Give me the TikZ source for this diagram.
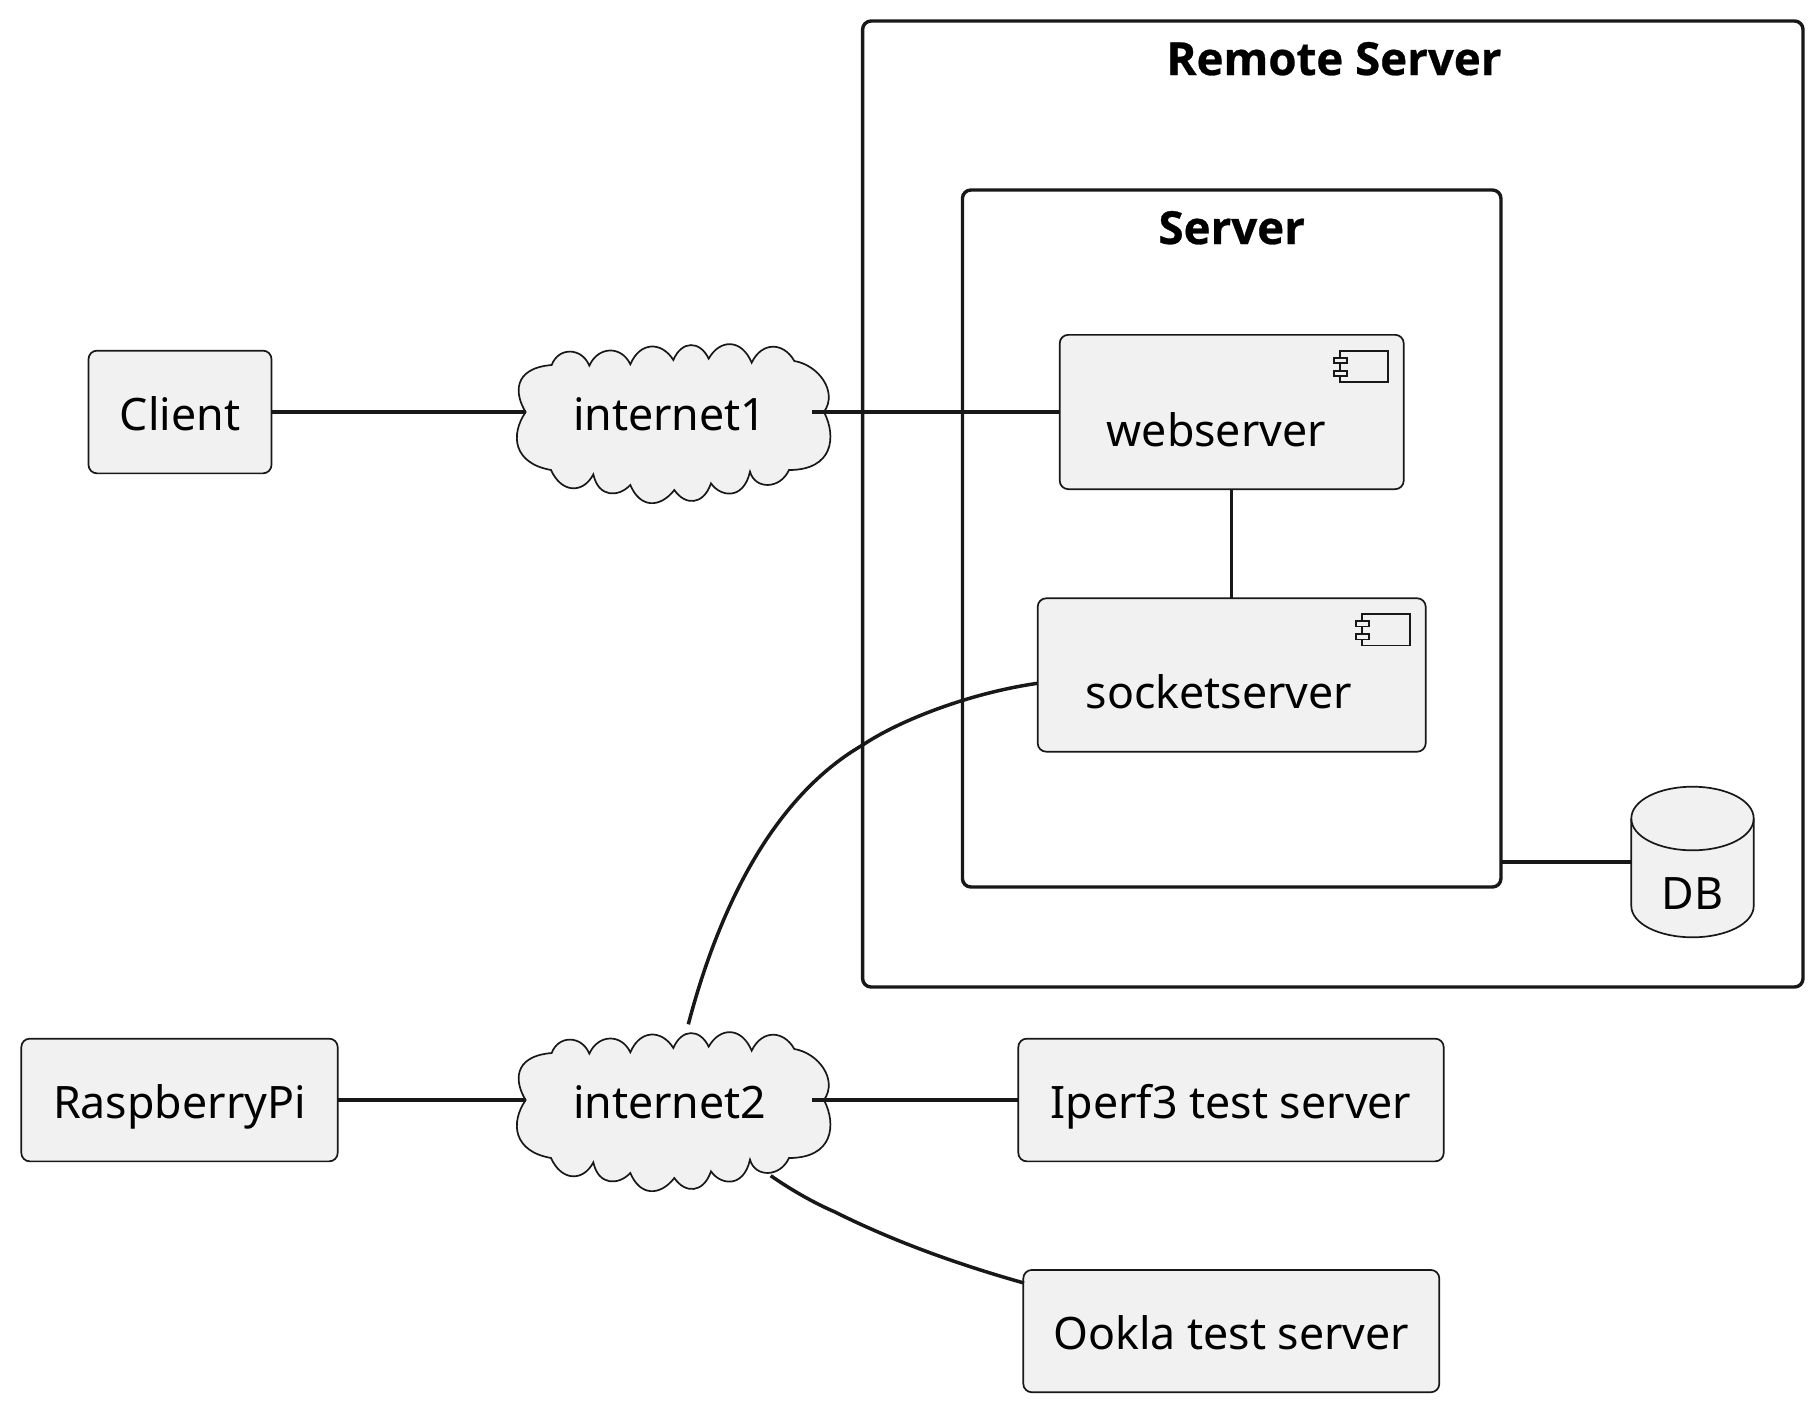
\documentclass[tikz,border=0pt]{standalone}
\usepackage{fontspec}
\setmainfont{Noto Sans}
\newfontfamily\ttlfont{Open Sans}[BoldFeatures={FakeBold=0.6}]
\tikzset{
  every node/.style={inner sep=0pt,outer sep=0pt},
  lbl/.style={font=\fontsize{44.7}{54}\selectfont,text=black},
  ttl/.style={font=\ttlfont\fontsize{45.6}{54}\selectfont\bfseries,text=black},
  bx/.style={lbl,draw=lineC,fill=boxC,line width=1.7pt,rounded corners=8.5pt,text height=36.6pt,text depth=0pt},
  frame/.style={draw=lineC,line width=3.4pt,rounded corners=8.5pt},
  conn/.style={draw=lineC,line width=3.5pt},
  thin/.style={draw=lineC,fill=boxC,line width=1.7pt},
}
\definecolor{lineC}{HTML}{181818}
\definecolor{boxC}{HTML}{F1F1F1}
\newcommand{\cloudat}[2]{%
\begin{scope}[shift={(#1,#2)},x=0.33333pt,y=-0.33333pt]
\draw[thin] (107,276) .. controls (75,225) and (65,145) .. (185,135)
 .. controls (205,81) and (275,81) .. (298,137)
 .. controls (325,77) and (395,77) .. (421,133)
 .. controls (450,64) and (515,64) .. (550,120)
 .. controls (575,61) and (630,61) .. (656,116)
 .. controls (690,56) and (755,56) .. (785,128)
 .. controls (815,65) and (880,65) .. (913,123)
 .. controls (985,135) and (1045,215) .. (1002,276)
 .. controls (1040,350) and (1030,450) .. (897,450)
 .. controls (870,509) and (795,509) .. (780,455)
 .. controls (760,543) and (690,530) .. (663,490)
 .. controls (640,557) and (585,557) .. (553,510)
 .. controls (510,565) and (450,565) .. (421,495)
 .. controls (385,533) and (325,533) .. (310,463)
 .. controls (280,521) and (215,521) .. (183,450)
 .. controls (70,430) and (60,345) .. (107,276) -- cycle;
\end{scope}}
\newcommand{\compicon}[2]{%
\begin{scope}[shift={(#1,#2)}]
\draw[thin] (0,0) rectangle (47.7,31.3);
\draw[thin] (-6,6.7) rectangle (6.7,12.3);
\draw[thin] (-6,19.7) rectangle (6.7,25.3);
\end{scope}}
\begin{document}
\begin{tikzpicture}[x=1pt,y=-1pt]
\useasboundingbox[fill=white] (0,0) rectangle (1818,1408);
% frames
\node[frame,minimum width=940.4pt,minimum height=966pt] (remote) at (1332.8,504) {};
\node[frame,minimum width=538.5pt,minimum height=697pt] (server) at (1231.7,538.5) {};
\node[ttl,anchor=base] (remotet) at (1334,75) {Remote Server};
\node[ttl,anchor=base] (servert) at (1231.7,244) {Server};
% leaf boxes
\node[bx,minimum width=183pt,minimum height=122.7pt] (client) at (180,412) {Client};
\node[bx,minimum width=316.4pt,minimum height=122.7pt] (pi) at (179.5,1100) {RaspberryPi};
\node[bx,minimum width=425.4pt,minimum height=122.7pt] (iperf) at (1231,1100) {Iperf3 test server};
\node[bx,minimum width=416pt,minimum height=122.3pt] (ookla) at (1231.3,1331.1) {Ookla test server};
% components
\node[bx,minimum width=344pt,minimum height=154.3pt] (web) at (1231.7,412) {};
\node[bx,minimum width=388pt,minimum height=153.4pt] (sock) at (1231.7,675) {};
\compicon{1340}{351}
\compicon{1362}{614.3}
\node[lbl,anchor=base west] (webt) at (1106.7,446) {webserver};
\node[lbl,anchor=base west] (sockt) at (1085.7,708.3) {socketserver};
% clouds
\cloudat{490}{320}
\cloudat{490}{1008}
\node[lbl,anchor=base west] (c1) at (573,430.2) {internet1};
\node[lbl,anchor=base west] (c2) at (573,1118.2) {internet2};
\coordinate (c1w) at (525.7,412);
\coordinate (c1e) at (812,412);
\coordinate (c2w) at (525.7,1100);
\coordinate (c2e) at (812,1100);
\coordinate (c2n) at (688.3,1024.3);
\coordinate (c2s) at (770.7,1175.7);
% database
\draw[thin] (1631.3,818.5) .. controls (1631.3,800.5) and (1658.7,786.7) .. (1692.5,786.7)
 .. controls (1726.3,786.7) and (1753.7,800.5) .. (1753.7,818.5)
 -- (1753.7,906) .. controls (1753.7,923.5) and (1726.3,937.3) .. (1692.5,937.3)
 .. controls (1658.7,937.3) and (1631.3,923.5) .. (1631.3,906) -- cycle;
\draw[thin,fill=none] (1631.3,818.5) .. controls (1631.3,836.5) and (1658.7,850.3) .. (1692.5,850.3)
 .. controls (1726.3,850.3) and (1753.7,836.5) .. (1753.7,818.5);
\node[lbl,anchor=base] (db) at (1692.5,909.5) {DB};
\coordinate (dbw) at (1631.3,862);
\coordinate (sockin) at (1037.6,683.3);
\coordinate (ookin) at (1024,1283);
% connectors
\draw[conn] (client.east) -- (c1w);
\draw[conn] (c1e) -- (web.west);
\draw[conn] (web.south) -- (sock.north);
\draw[conn] (server.east |- dbw) -- (dbw);
\draw[conn] (pi.east) -- (c2w);
\draw[conn] (c2e) -- (iperf.west);
\draw[conn] (c2n) .. controls (725,885) and (785,790) .. (862.7,745) .. controls (900,720) and (970,693) .. (sockin);
\draw[conn] (c2s) .. controls (790,1189) and (812,1202) .. (835,1212) .. controls (895,1242) and (960,1265) .. (ookin);
\end{tikzpicture}
\end{document}
